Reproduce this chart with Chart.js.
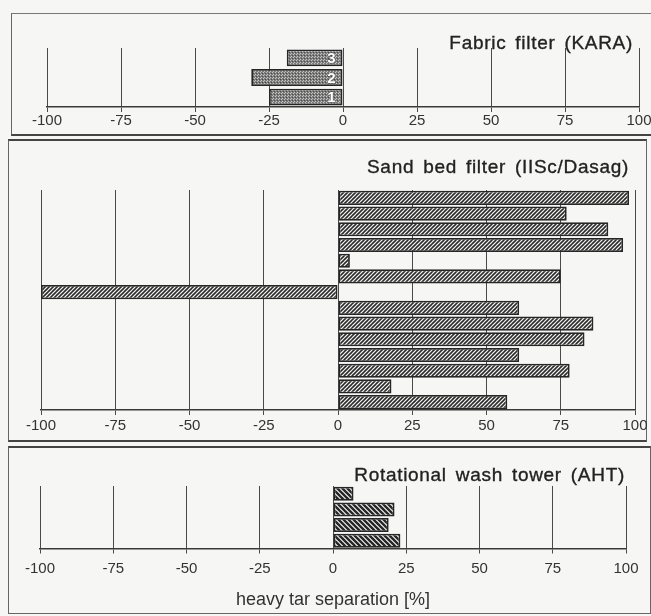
<!DOCTYPE html>
<html>
<head>
<meta charset="utf-8">
<script src="https://cdn.jsdelivr.net/npm/chart.js@4.4.1/dist/chart.umd.min.js"></script>
<style>
html,body{margin:0;padding:0;width:651px;height:616px;overflow:hidden;background:#f6f6f4;position:relative;}
canvas{position:absolute;left:0;}
.box{position:absolute;box-sizing:border-box;}
.ttl{position:absolute;font-family:"Liberation Sans",Arial,sans-serif;font-size:19px;color:#222;letter-spacing:0.7px;word-spacing:3px;white-space:nowrap;line-height:22px;-webkit-text-stroke:0.35px #222;}
</style>
</head>
<body>
<div class="box" style="left:11px;top:13px;width:700px;height:123px;border-left:1.5px solid #666;border-top:1.5px solid #777;border-bottom:2px solid #444;"></div>
<div class="box" style="left:8px;top:139px;width:639px;height:303px;border:1.5px solid #666;border-top-width:2px;border-top-color:#444;border-bottom-width:2px;border-bottom-color:#444;"></div>
<div class="box" style="left:8px;top:446px;width:643px;height:168px;border:1.5px solid #666;border-top-width:2px;border-top-color:#444;"></div>

<canvas id="c1" width="700" height="115" style="top:20px"></canvas>
<canvas id="c2" width="700" height="300" style="top:140px"></canvas>
<canvas id="c3" width="700" height="168" style="top:446px"></canvas>

<div class="ttl" style="right:18px;top:32px;">Fabric filter (KARA)</div>
<div class="ttl" style="right:22px;top:156px;">Sand bed filter (IISc/Dasag)</div>
<div class="ttl" style="right:26px;top:464px;">Rotational wash tower (AHT)</div>

<script>
// ---- data ----
const xTicks = [-100, -75, -50, -25, 0, 25, 50, 75, 100];
const fabricLabels = ['3', '2', '1'];
const fabricValues = [-19, -31, -25];
const sandLabels = ['1','2','3','4','5','6','7','8','9','10','11','12','13','14'];
const sandValues = [98, 77, 91, 96, 4, 75, -100, 61, 86, 83, 61, 78, 18, 57];
const washLabels = ['1', '2', '3', '4'];
const washValues = [7, 21, 19, 23];
const xAxisTitle = 'heavy tar separation [%]';

const FONT = '"Liberation Sans", Arial, sans-serif';

function stipple(ctx) {
  const t = document.createElement('canvas');
  t.width = 3; t.height = 3;
  const g = t.getContext('2d');
  g.fillStyle = '#7c7c7c'; g.fillRect(0, 0, 3, 3);
  g.fillStyle = '#c4c4c4'; g.fillRect(0, 0, 1, 1); g.fillRect(2, 1, 1, 1);
  g.fillStyle = '#4a4a4a'; g.fillRect(1, 2, 1, 1);
  return ctx.createPattern(t, 'repeat');
}
function hatch(ctx, forward, size, lw, bg, fg) {
  const t = document.createElement('canvas');
  t.width = size; t.height = size;
  const g = t.getContext('2d');
  g.fillStyle = bg; g.fillRect(0, 0, size, size);
  g.strokeStyle = fg; g.lineWidth = lw; g.lineCap = 'square';
  g.beginPath();
  for (let k = -1; k <= 1; k++) {
    if (forward) { g.moveTo(k * size, size); g.lineTo(k * size + size, 0); }
    else { g.moveTo(k * size, 0); g.lineTo(k * size + size, size); }
  }
  g.stroke();
  return ctx.createPattern(t, 'repeat');
}

const barNumbers = {
  id: 'barNumbers',
  afterDatasetsDraw(chart, args, opts) {
    if (!opts.show) return;
    const ctx = chart.ctx;
    const meta = chart.getDatasetMeta(0);
    ctx.save();
    ctx.font = 'bold 15px ' + FONT;
    ctx.textAlign = 'right';
    ctx.textBaseline = 'middle';
    ctx.lineWidth = 1.2;
    ctx.strokeStyle = '#555';
    ctx.fillStyle = '#ffffff';
    meta.data.forEach((el, i) => {
      const txt = chart.data.labels[i];
      const x = el.base - 7;
      ctx.strokeText(txt, x, el.y + 1);
      ctx.fillText(txt, x, el.y + 1);
    });
    ctx.restore();
  }
};

function build(id, labels, values, bgFn, bp, pad, tickPad, title) {
  const canvas = document.getElementById(id);
  const ctx = canvas.getContext('2d');
  return new Chart(canvas, {
    type: 'bar',
    data: {
      labels: labels,
      datasets: [{
        data: values,
        backgroundColor: bgFn(ctx),
        borderColor: '#262626',
        borderWidth: 1.8,
        borderSkipped: false,
        categoryPercentage: 1,
        barPercentage: bp
      }]
    },
    plugins: [barNumbers],
    options: {
      indexAxis: 'y',
      responsive: false,
      animation: false,
      events: [],
      layout: { padding: pad },
      plugins: {
        legend: { display: false },
        tooltip: { enabled: false },
        barNumbers: { show: id === 'c1' }
      },
      scales: {
        x: {
          type: 'linear',
          min: -100, max: 100,
          afterBuildTicks: s => { s.ticks = xTicks.map(v => ({ value: v })); },
          ticks: { color: '#333', font: { family: FONT, size: 15 }, padding: tickPad, autoSkip: false, maxRotation: 0 },
          grid: { color: '#4a4a4a', lineWidth: 1, tickLength: 5, tickColor: '#4a4a4a' },
          border: { display: true, color: '#3a3a3a', width: 1.5 },
          title: title ? { display: true, text: title, color: '#333', font: { family: FONT, size: 18 }, padding: { top: 6, bottom: 0 } } : { display: false }
        },
        y: { display: false }
      }
    }
  });
}

build('c1', fabricLabels, fabricValues, stipple, 0.86, { top: 28, bottom: 5, left: 47, right: 61 }, 0, null);
build('c2', sandLabels, sandValues, c => hatch(c, true, 4, 1.6, '#f6f6f6', '#2a2a2a'), 0.9, { top: 50, bottom: 3, left: 41, right: 65 }, 2, null);
build('c3', washLabels, washValues, c => hatch(c, false, 5, 2.4, '#f6f6f6', '#262626'), 0.9, { top: 40, bottom: 3, left: 40, right: 74 }, 6, xAxisTitle);
</script>
</body>
</html>
